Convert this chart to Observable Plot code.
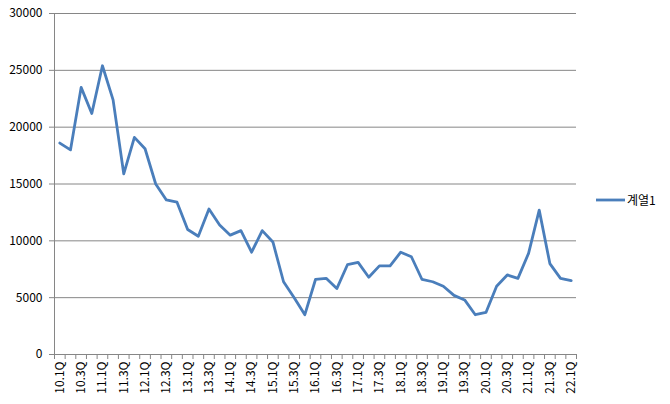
<!DOCTYPE html>
<html>
<head>
<meta charset="utf-8">
<script src="https://cdn.jsdelivr.net/npm/d3@7"></script>
<script src="https://cdn.jsdelivr.net/npm/@observablehq/plot@0.6"></script>
<style>
  body { margin: 0; background: #fff; }
  #wrap { position: relative; width: 670px; height: 404px; font-family: "Noto Sans CJK KR", "Liberation Sans", sans-serif; }
  #legend { position: absolute; left: 596px; top: 191px; font-size: 12px; color: #000; display: flex; align-items: center; }
</style>
</head>
<body>
<div id="wrap"></div>
<script>
const quarters = [
  "10.1Q","10.2Q","10.3Q","10.4Q",
  "11.1Q","11.2Q","11.3Q","11.4Q",
  "12.1Q","12.2Q","12.3Q","12.4Q",
  "13.1Q","13.2Q","13.3Q","13.4Q",
  "14.1Q","14.2Q","14.3Q","14.4Q",
  "15.1Q","15.2Q","15.3Q","15.4Q",
  "16.1Q","16.2Q","16.3Q","16.4Q",
  "17.1Q","17.2Q","17.3Q","17.4Q",
  "18.1Q","18.2Q","18.3Q","18.4Q",
  "19.1Q","19.2Q","19.3Q","19.4Q",
  "20.1Q","20.2Q","20.3Q","20.4Q",
  "21.1Q","21.2Q","21.3Q","21.4Q",
  "22.1Q"
];
const series1 = [
  18600, 18000, 23500, 21200,
  25400, 22400, 15900, 19100,
  18100, 15000, 13600, 13400,
  11000, 10400, 12800, 11400,
  10500, 10900, 9000, 10900,
  9900, 6400, 5000, 3500,
  6600, 6700, 5800, 7900,
  8100, 6800, 7800, 7800,
  9000, 8600, 6600, 6400,
  6000, 5200, 4800, 3500,
  3700, 6000, 7000, 6700,
  8900, 12700, 8000, 6700,
  6500
];
const yTicks = [0, 5000, 10000, 15000, 20000, 25000, 30000];
const seriesName = "계열1";

const data = quarters.map((q, i) => ({i, q, v: series1[i]}));
const labelIdx = quarters.map((q, i) => i).filter(i => i % 2 === 0);
const boundaries = d3.range(-0.5, quarters.length, 1);
const grey = "#868686";

const chart = Plot.plot({
  width: 670,
  height: 404,
  marginLeft: 54,
  marginRight: 94,
  marginTop: 13,
  marginBottom: 50,
  style: {fontFamily: '"Noto Sans CJK KR", "Liberation Sans", sans-serif', fontSize: "12px", color: "#000", background: "#fff"},
  x: {type: "linear", domain: [-0.5, quarters.length - 0.5]},
  y: {domain: [0, 30000]},
  marks: [
    Plot.gridY(yTicks.filter(d => d > 0), {stroke: grey, strokeOpacity: 1}),
    Plot.axisY(yTicks, {tickSize: 5, tickPadding: 7, stroke: grey, strokeOpacity: 1, fill: "#000", tickFormat: d3.format("d"), label: null}),
    Plot.axisX(boundaries, {tickSize: 5, stroke: grey, strokeOpacity: 1, tickFormat: () => "", label: null}),
    Plot.axisX(labelIdx, {tickSize: 0, tickPadding: 7, tickRotate: -90, fill: "#000", tickFormat: i => quarters[i], label: null}),
    Plot.ruleX([-0.5], {stroke: grey}),
    Plot.ruleY([0], {stroke: grey}),
    Plot.line(data, {x: "i", y: "v", stroke: "#4a7ebb", strokeWidth: 2.8, strokeLinejoin: "round"})
  ]
});

const wrap = document.getElementById("wrap");
wrap.appendChild(chart);
const legend = document.createElement("div");
legend.id = "legend";
legend.innerHTML = '<svg width="30" height="6" style="margin-right:1px"><line x1="0" y1="3" x2="29" y2="3" stroke="#4a7ebb" stroke-width="2.8"/></svg><span>' + seriesName + '</span>';
wrap.appendChild(legend);
</script>
</body>
</html>
